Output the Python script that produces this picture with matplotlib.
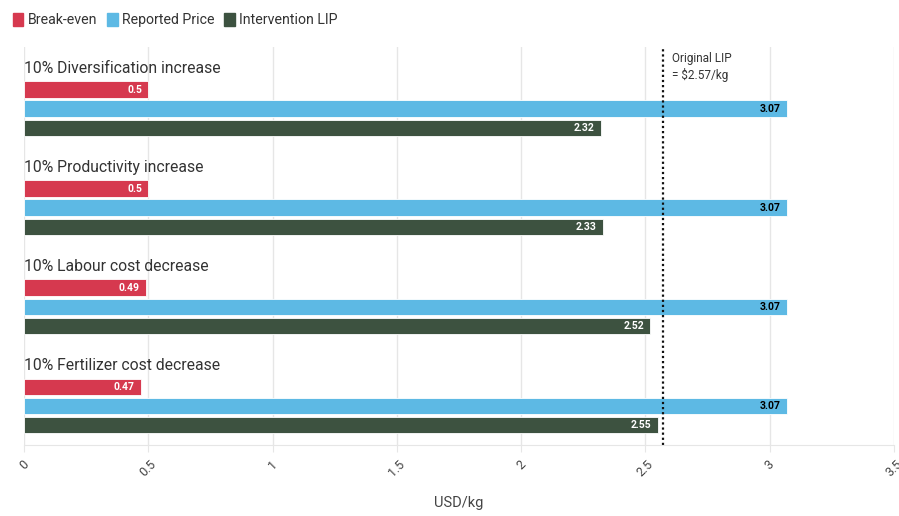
import matplotlib.pyplot as plt
from matplotlib.patches import Patch

plt.rcParams['font.family'] = ['Roboto', 'DejaVu Sans']

categories = ['10% Diversification increase', '10% Productivity increase',
              '10% Labour cost decrease', '10% Fertilizer cost decrease']
break_even = [0.5, 0.5, 0.49, 0.47]
reported_price = [3.07, 3.07, 3.07, 3.07]
intervention_lip = [2.32, 2.33, 2.52, 2.55]
original_lip = 2.57

series_names = ['Break-even', 'Reported Price', 'Intervention LIP']
colors = ['#D6394F', '#5DB9E4', '#3D5240']
label_colors = ['white', 'black', 'white']

fig = plt.figure(figsize=(8.99, 5.16), dpi=100)
ax = fig.add_axes([24 / 899, 1 - 445 / 516, 870 / 899, 398 / 516])

# layout in "row" units (one bar step)
group_step = 5.08
label_off = 1.08
bar_offs = [2.18, 3.16, 4.14]
bar_h = 0.84

series = [break_even, reported_price, intervention_lip]
for g, cat in enumerate(categories):
    base = g * group_step
    ax.text(0, base + label_off, cat, ha='left', va='center', fontsize=11.3,
            color='#333333')
    for s, vals in enumerate(series):
        v = vals[g]
        y = base + bar_offs[s]
        ax.barh(y, v, height=bar_h, color=colors[s], edgecolor='white', linewidth=0.6)
        ax.text(v - 0.025, y, f'{v:g}', ha='right', va='center', fontsize=7.5,
                fontweight='bold', color=label_colors[s])

ax.axvline(original_lip, color='#111111', linestyle=(0, (1, 1.3)), linewidth=1.6)
ax.text(original_lip + 0.035, 0.25, 'Original LIP\n= $2.57/kg', ha='left', va='top',
        fontsize=8.5, color='#333333', linespacing=1.3)

ax.set_xlim(0, 3.5)
ax.set_ylim(20.41, 0)
ax.set_xticks([0, 0.5, 1, 1.5, 2, 2.5, 3, 3.5])
ax.set_xticklabels(['0', '0.5', '1', '1.5', '2', '2.5', '3', '3.5'], rotation=45,
                   ha='center', va='top', fontsize=9, color='#444444')
ax.tick_params(axis='x', length=5, color='#e6e6e6', pad=4)
ax.set_yticks([])
ax.grid(axis='x', color='#e6e6e6', linewidth=1)
ax.set_axisbelow(True)
for sp in ['top', 'right', 'left']:
    ax.spines[sp].set_visible(False)
ax.spines['bottom'].set_color('#e6e6e6')
ax.set_xlabel('USD/kg', fontsize=10.5, color='#444444', labelpad=12)

handles = [Patch(facecolor=c, edgecolor=c, label=n) for c, n in zip(colors, series_names)]
fig.legend(handles=handles, loc='upper left', bbox_to_anchor=(0.0, 1.0), ncol=3,
           frameon=False, fontsize=10.2, handlelength=0.75, handleheight=1.1,
           handletextpad=0.3, columnspacing=0.7, labelcolor='#333333')

fig.savefig('out.png', dpi=100)
